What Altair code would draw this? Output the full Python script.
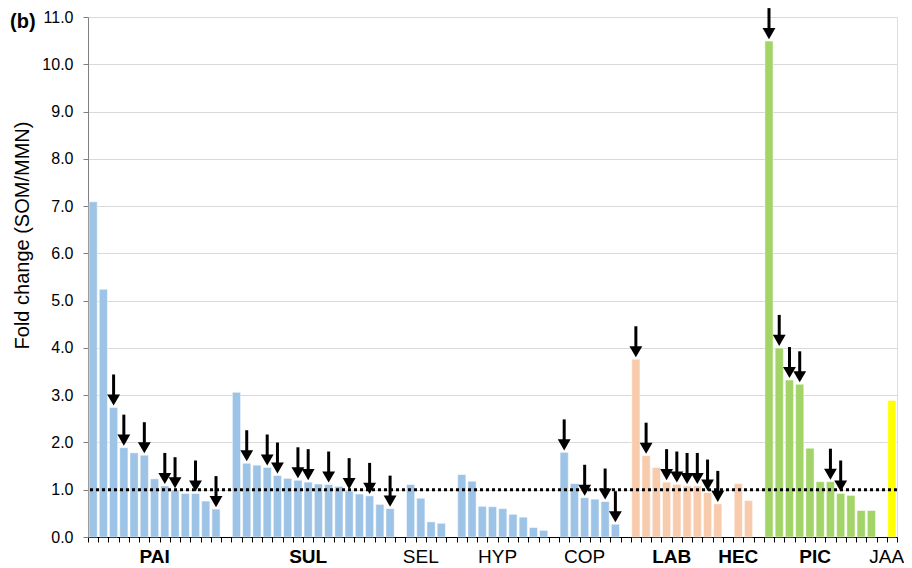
import altair as alt
import pandas as pd

# ---- data ----
groups = ["PAI", "SUL", "SEL", "HYP", "COP", "LAB", "HEC", "PIC", "JAA"]
bold_groups = ["PAI", "SUL", "LAB", "HEC", "PIC"]

pai = [7.09, 5.24, 2.74, 1.89, 1.78, 1.73, 1.23, 1.08, 0.99, 0.92, 0.92, 0.76, 0.59]
sul = [3.06, 1.56, 1.52, 1.47, 1.30, 1.24, 1.20, 1.16, 1.12, 1.11, 1.07, 0.97, 0.91, 0.87, 0.69, 0.60]
sel = [1.11, 0.82, 0.32, 0.29]
hyp = [1.32, 1.18, 0.65, 0.64, 0.60, 0.48, 0.42, 0.20, 0.14]
cop = [1.79, 1.13, 0.83, 0.80, 0.75, 0.27]
lab = [3.76, 1.72, 1.47, 1.16, 1.11, 1.08, 1.08, 0.94, 0.70]
hec = [1.13, 0.77]
pic = [10.49, 4.00, 3.32, 3.23, 1.88, 1.17, 1.17, 0.92, 0.88, 0.56, 0.56]
jaa = [2.89]

# indices (within each group) of bars marked with a down arrow
pai_arrows = [2, 3, 5, 7, 8, 10, 12]
sul_arrows = [1, 3, 4, 6, 7, 9, 11, 13, 15]
sel_arrows = []
hyp_arrows = []
cop_arrows = [0, 2, 4, 5]
lab_arrows = [0, 1, 3, 4, 5, 6, 7, 8]
hec_arrows = []
pic_arrows = [0, 1, 2, 3, 6, 7]
jaa_arrows = []

group_colors = ["#9DC3E6", "#9DC3E6", "#9DC3E6", "#9DC3E6", "#9DC3E6",
                "#F8CBAD", "#F8CBAD", "#A3D468", "#FFFF00"]

threshold = [1.0]
y_ticks = list(range(0, 12))

values = dict(zip(groups, [pai, sul, sel, hyp, cop, lab, hec, pic, jaa]))
arrows = dict(zip(groups, [pai_arrows, sul_arrows, sel_arrows, hyp_arrows, cop_arrows,
                           lab_arrows, hec_arrows, pic_arrows, jaa_arrows]))

# ---- build tables (one empty category slot between groups) ----
rows, labels = [], []
slot = 0
for gi, g in enumerate(groups):
    start = slot
    if gi > 0:
        slot += 1
    for i, v in enumerate(values[g]):
        rows.append({"group": g, "slot": slot, "value": v, "arrow": i in arrows[g]})
        slot += 1
    labels.append({"group": g, "center": (start + slot) / 2.0, "bold": g in bold_groups})
n_slots = slot

bars_df = pd.DataFrame(rows)
arrow_df = bars_df[bars_df["arrow"]].copy()
labels_df = pd.DataFrame(labels)

W, H = 809, 520
FONT = "Liberation Sans"

xscale = alt.Scale(domain=[0, n_slots], nice=False, zero=False)
yscale = alt.Scale(domain=[0, 11], nice=False)

x_axis = alt.Axis(values=list(range(n_slots + 1)), labels=False, grid=False,
                  ticks=True, tickSize=5, tickColor="black", domainColor="black",
                  domainWidth=1, title=None)
y_axis = alt.Axis(values=y_ticks, format=".1f", title="Fold change (SOM/MMN)",
                  grid=True, gridColor="#D9D9D9", gridWidth=1,
                  domainColor="#7F7F7F", tickColor="#7F7F7F", tickSize=5,
                  labelPadding=10, labelFontSize=16, labelColor="#000000",
                  titleFontSize=20, titleFontWeight="normal", titleColor="#000000",
                  titleX=-66, titleY=218, titleAngle=-90, titleAlign="center",
                  titleBaseline="middle", labelFont=FONT, titleFont=FONT)

bars = alt.Chart(bars_df).transform_calculate(
    x0="datum.slot + 0.1", x1="datum.slot + 0.9"
).mark_bar(stroke="white", strokeWidth=0.5).encode(
    x=alt.X("x0:Q", scale=xscale, axis=x_axis),
    x2="x1:Q",
    y=alt.Y("value:Q", scale=yscale, axis=y_axis),
    y2=alt.datum(0),
    color=alt.Color("group:N", scale=alt.Scale(domain=groups, range=group_colors), legend=None),
)

dotted = alt.Chart(pd.DataFrame({"t": threshold})).mark_rule(
    color="black", strokeWidth=3, strokeDash=[3, 3]
).encode(y=alt.Y("t:Q", scale=yscale, axis=y_axis))

shafts = alt.Chart(arrow_df).transform_calculate(
    xc="datum.slot + 0.5"
).mark_rule(color="black", strokeWidth=3, yOffset=-8, y2Offset=-33).encode(
    x=alt.X("xc:Q", scale=xscale, axis=x_axis),
    y=alt.Y("value:Q", scale=yscale, axis=y_axis),
    y2="value:Q",
)

heads = alt.Chart(arrow_df).transform_calculate(
    xc="datum.slot + 0.5"
).mark_point(shape="triangle-down", filled=True, size=165, color="black",
             opacity=1, yOffset=-7.5).encode(
    x=alt.X("xc:Q", scale=xscale, axis=x_axis),
    y=alt.Y("value:Q", scale=yscale, axis=y_axis),
)

def group_text(bold):
    return alt.Chart(labels_df[labels_df["bold"] == bold]).mark_text(
        font=FONT, fontSize=19, fontWeight="bold" if bold else "normal",
        color="black", baseline="alphabetic", align="center"
    ).encode(
        x=alt.X("center:Q", scale=xscale, axis=x_axis),
        y=alt.value(H + 26),
        text="group:N",
    )

panel_tag = alt.Chart(pd.DataFrame({"t": ["(b)"]})).mark_text(
    font=FONT, fontSize=20, fontWeight="bold", color="black", align="left",
    baseline="alphabetic"
).encode(x=alt.value(-78), y=alt.value(11), text="t:N")

chart = alt.layer(bars, dotted, shafts, heads, group_text(True), group_text(False), panel_tag).properties(
    width=W, height=H,
    autosize=alt.AutoSizeParams(type="none"),
    padding={"left": 80, "top": 9, "right": 7, "bottom": 30},
).configure_view(stroke=None).configure(font=FONT).configure_axis(labelFont=FONT, titleFont=FONT)

chart.save("out.html", embed_options={"renderer": "svg", "actions": False})
